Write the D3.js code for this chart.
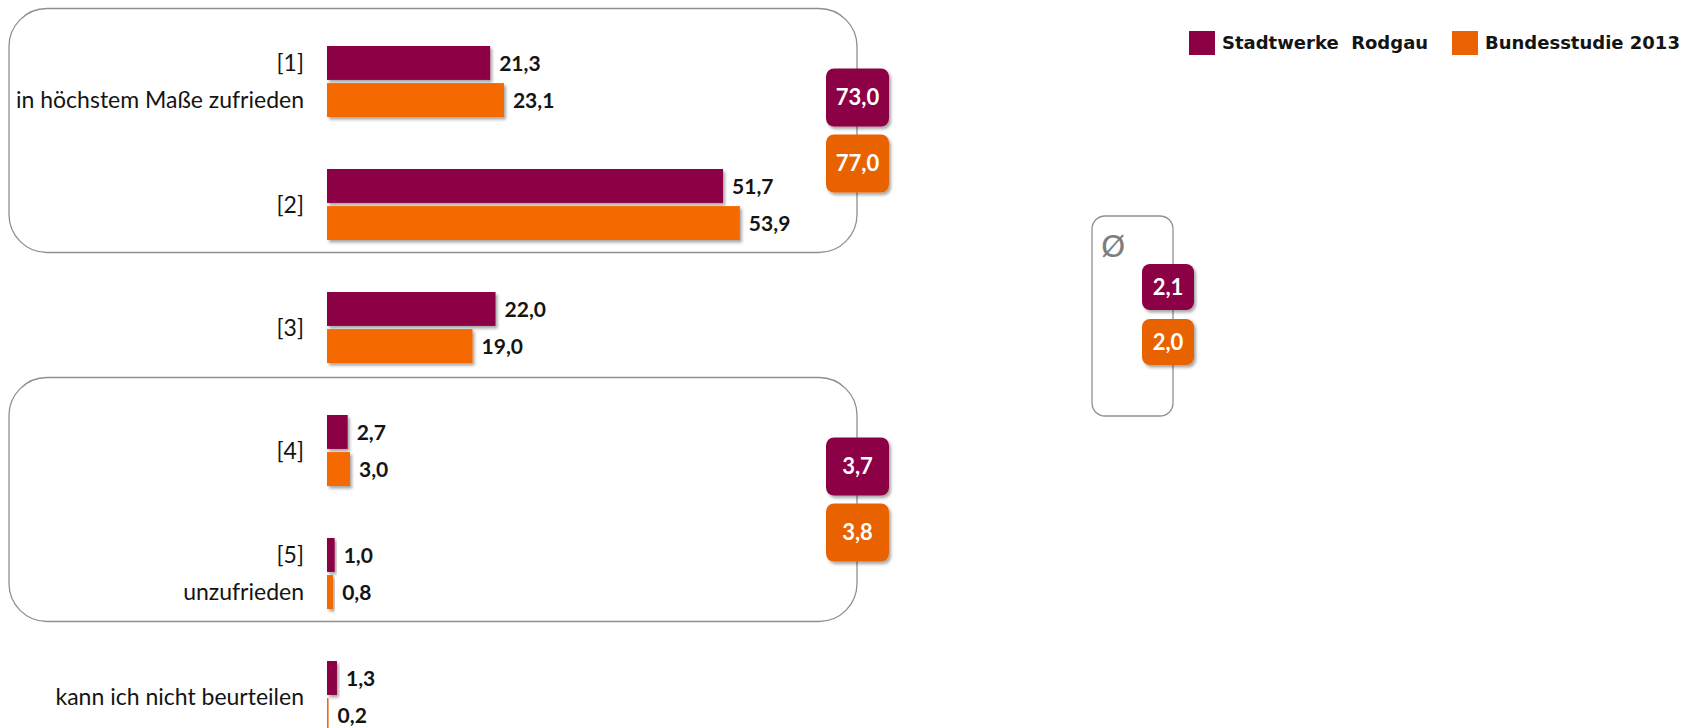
<!DOCTYPE html>
<html>
<head>
<meta charset="utf-8">
<script src="https://cdn.jsdelivr.net/npm/d3@7"></script>
<style>
    html, body { margin: 0; padding: 0; background: #fff; }
    svg { display: block; }
</style>
</head>
<body>
<div id="container"><svg></svg></div>
<script>
// Zufriedenheit - Stadtwerke Rodgau vs. Bundesstudie 2013 (Angaben in %)

const categories = ["[1]", "[2]", "[3]", "[4]", "[5]", "kann ich nicht beurteilen"]
// zweite Zeile der Beschriftung (falls vorhanden)
const subLabels = ["in höchstem Maße zufrieden", "", "", "", "unzufrieden", ""]
const series = ["Stadtwerke  Rodgau", "Bundesstudie 2013"]
const valuesRodgau = [21.3, 51.7, 22.0, 2.7, 1.0, 1.3]
const valuesBund = [23.1, 53.9, 19.0, 3.0, 0.8, 0.2]

// Top-2 / Bottom-2 Summen
const groups = [
    { from: "[1]", to: "[2]", values: [73.0, 77.0] },
    { from: "[4]", to: "[5]", values: [3.7, 3.8] }
]
// Mittelwert
const averages = [2.1, 2.0]


let svgWidth = 1707
let svgHeight = 728

const purple = "#8c0044"
const orange = "#f46a06"
const badgeOrange = "#e96204"
const textColor = "#141414"

const fmt = d3.formatLocale({ decimal: ",", thousands: ".", grouping: [3], currency: ["", "€"] }).format(".1f")

const svg = d3.select("svg")
    .attr("width", svgWidth)
    .attr("height", svgHeight)

// Schatten
const defs = svg.append("defs")
const shadow = defs.append("filter")
    .attr("id", "shadow")
    .attr("x", "-20%").attr("y", "-20%")
    .attr("width", "150%").attr("height", "150%")
shadow.append("feDropShadow")
    .attr("dx", 2).attr("dy", 2.5)
    .attr("stdDeviation", 1.6)
    .attr("flood-color", "#000")
    .attr("flood-opacity", 0.35)

var data = categories.map((c, i) => {
    return {
        category: c,
        sub: subLabels[i],
        values: [
            { key: series[0], value: valuesRodgau[i] },
            { key: series[1], value: valuesBund[i] }
        ]
    }
})

var color = d3.scaleOrdinal()
    .domain(series)
    .range([purple, orange])

var x = d3.scaleLinear()
    .domain([0, 100])
    .range([327, 327 + 766])

var y = d3.scaleBand()
    .domain(categories)
    .range([20, 20 + categories.length * 123])

var ySub = d3.scaleBand()
    .domain(series)
    .range([-35.5, 35.5])
    .paddingInner(0.085)

const center = c => y(c) + y.bandwidth() / 2

// Rahmen für Top-2 / Bottom-2
const boxG = svg.append("g").attr("id", "boxes")
groups.forEach(g => {
    let top = center(g.from) - 73
    let bottom = center(g.to) + 48
    boxG.append("rect")
        .attr("x", 9)
        .attr("y", top)
        .attr("width", 848)
        .attr("height", bottom - top)
        .attr("rx", 38)
        .attr("fill", "none")
        .attr("stroke", "#8f8f8f")
        .attr("stroke-width", 1.3)
    g.mid = (top + bottom) / 2
})

// Balken
const rows = svg.append("g")
    .attr("id", "bars")
    .selectAll(".row")
    .data(data)
    .enter()
    .append("g")
    .attr("class", "row")
    .attr("transform", d => `translate(0, ${center(d.category)})`)

rows.selectAll("rect")
    .data(d => d.values)
    .enter()
    .append("rect")
    .attr("x", x(0))
    .attr("y", d => ySub(d.key))
    .attr("width", d => x(d.value) - x(0))
    .attr("height", ySub.bandwidth())
    .attr("fill", d => color(d.key))
    .attr("filter", "url(#shadow)")

rows.selectAll("text.value")
    .data(d => d.values)
    .enter()
    .append("text")
    .attr("class", "value")
    .attr("x", d => x(d.value) + 9)
    .attr("y", d => ySub(d.key) + ySub.bandwidth() / 2)
    .attr("dy", "0.36em")
    .style("font-family", "Lato, 'Open Sans', sans-serif")
    .style("font-weight", "bold")
    .style("font-size", "21px")
    .style("fill", textColor)
    .text(d => fmt(d.value))

// Beschriftung links
rows.append("text")
    .attr("class", "label")
    .attr("x", 304)
    .attr("y", d => d.sub ? ySub(series[0]) + ySub.bandwidth() / 2 : 0)
    .attr("dy", "0.36em")
    .style("text-anchor", "end")
    .style("font-family", "Lato, 'Open Sans', sans-serif")
    .style("font-size", "23px")
    .style("fill", textColor)
    .text(d => d.category)

rows.filter(d => d.sub)
    .append("text")
    .attr("class", "sublabel")
    .attr("x", 304)
    .attr("y", ySub(series[1]) + ySub.bandwidth() / 2)
    .attr("dy", "0.36em")
    .style("text-anchor", "end")
    .style("font-family", "Lato, 'Open Sans', sans-serif")
    .style("font-size", "23px")
    .style("fill", textColor)
    .text(d => d.sub)

// Badges
function badge(parent, cx, cy, w, h, fill, value, size) {
    let b = parent.append("g")
    b.append("rect")
        .attr("x", cx - w / 2)
        .attr("y", cy - h / 2)
        .attr("width", w)
        .attr("height", h)
        .attr("rx", 8)
        .attr("fill", fill)
        .attr("filter", "url(#shadow)")
    b.append("text")
        .attr("x", cx)
        .attr("y", cy)
        .attr("dy", "0.36em")
        .style("text-anchor", "middle")
        .style("font-family", "Lato, 'Open Sans', sans-serif")
        .style("font-weight", "bold")
        .style("font-size", size + "px")
        .style("fill", "#fff")
        .text(fmt(value))
}

const badgeColors = [purple, badgeOrange]
const badgeG = svg.append("g").attr("id", "badges")
groups.forEach(g => {
    g.values.forEach((v, i) => {
        badge(badgeG, 857.5, g.mid + (i == 0 ? -33 : 33), 63, 58, badgeColors[i], v, 22)
    })
})

// Mittelwert-Kasten
const avgG = svg.append("g").attr("id", "average")
avgG.append("rect")
    .attr("x", 1092)
    .attr("y", 216)
    .attr("width", 81)
    .attr("height", 200)
    .attr("rx", 13)
    .attr("fill", "none")
    .attr("stroke", "#8f8f8f")
    .attr("stroke-width", 1.3)
avgG.append("text")
    .attr("x", 1101)
    .attr("y", 257)
    .style("font-family", "'DejaVu Sans', sans-serif")
    .style("font-size", "31px")
    .style("fill", "#7d7d7d")
    .text("Ø")
averages.forEach((v, i) => {
    badge(avgG, 1168, i == 0 ? 287 : 342, 52, 46, badgeColors[i], v, 22)
})

// Legende
var legendX = [1189, 1452]
var legend = svg.append("g")
    .attr("id", "legend")
    .selectAll(".legend")
    .data(series)
    .enter()
    .append("g")
    .attr("class", "legend")
    .attr("transform", (d, i) => `translate(${legendX[i]}, 31)`)

legend.append("rect")
    .attr("width", 26)
    .attr("height", 24)
    .style("fill", (d, i) => badgeColors[i])

legend.append("text")
    .attr("x", 33)
    .attr("y", 12)
    .attr("dy", "0.36em")
    .style("font-family", "'DejaVu Sans', sans-serif")
    .style("font-weight", "bold")
    .style("font-size", "18px")
    .style("white-space", "pre")
    .style("fill", textColor)
    .text(d => d)
</script>
</body>
</html>
